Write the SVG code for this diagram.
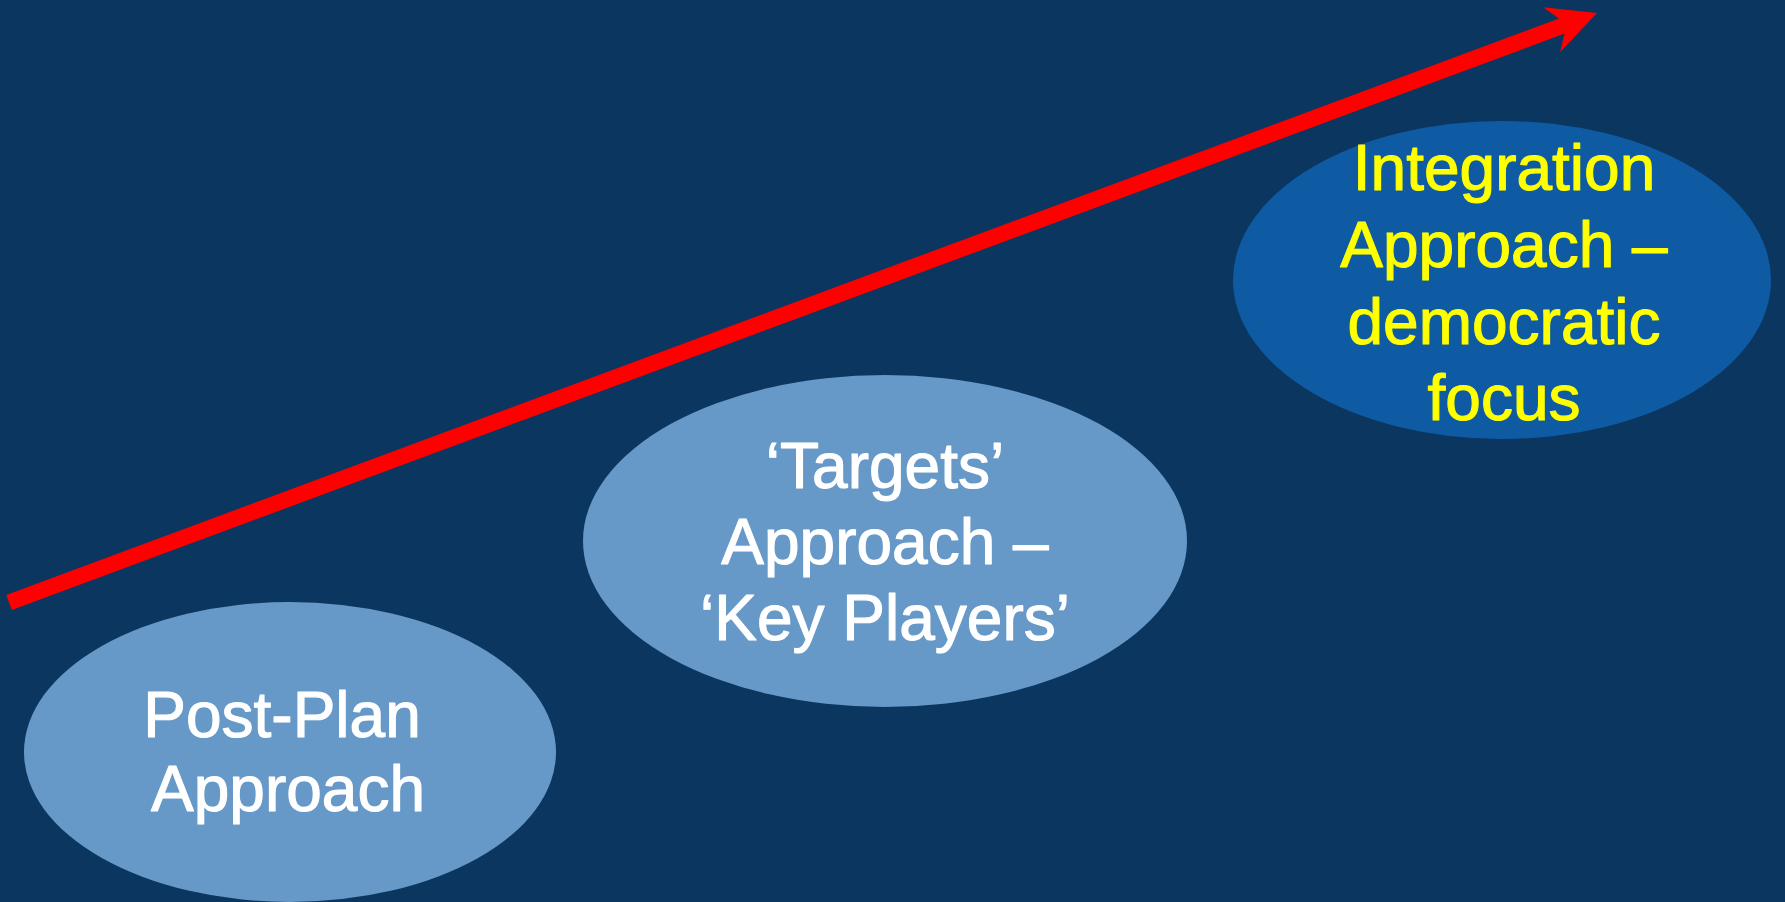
<svg xmlns="http://www.w3.org/2000/svg" width="1785" height="902" viewBox="0 0 1785 902">
<style>
.bg{fill:#0B3660}
.light{fill:#6699C7}
.dark{fill:#0E5BA3}
.t{font-family:"Liberation Sans",Arial,sans-serif;font-size:64px;text-anchor:middle;stroke-width:1.1px;stroke-linejoin:round}
.w{fill:#FFFFFF;stroke:#FFFFFF}
.y{fill:#FFFF00;stroke:#FFFF00}
.arrow{fill:#FF0000}
</style>
<rect class="bg" x="0" y="0" width="1785" height="902"/>
<g id="connectors">
<path class="arrow" d="M 6.2,595 L 1559,18.6 L 1543.3,7.35 L 1597,13 L 1560,52.35 L 1564.5,33.6 L 11.8,610 Z"/>
</g>
<g id="node-post-plan">
<ellipse class="light" cx="290" cy="752" rx="266" ry="150"/>
<text class="t w" x="282" y="737">Post-Plan</text>
<text class="t w" x="288" y="811">Approach</text>
</g>
<g id="node-targets">
<ellipse class="light" cx="885" cy="541" rx="302" ry="166"/>
<text class="t w" x="885" y="488">‘Targets’</text>
<text class="t w" x="885" y="564">Approach –</text>
<text class="t w" x="885" y="640">‘Key Players’</text>
</g>
<g id="node-integration">
<ellipse class="dark" cx="1502" cy="280" rx="269" ry="159"/>
<text class="t y" x="1504" y="190">Integration</text>
<text class="t y" x="1504" y="267">Approach –</text>
<text class="t y" x="1504" y="344">democratic</text>
<text class="t y" x="1504" y="420">focus</text>
</g>
</svg>
